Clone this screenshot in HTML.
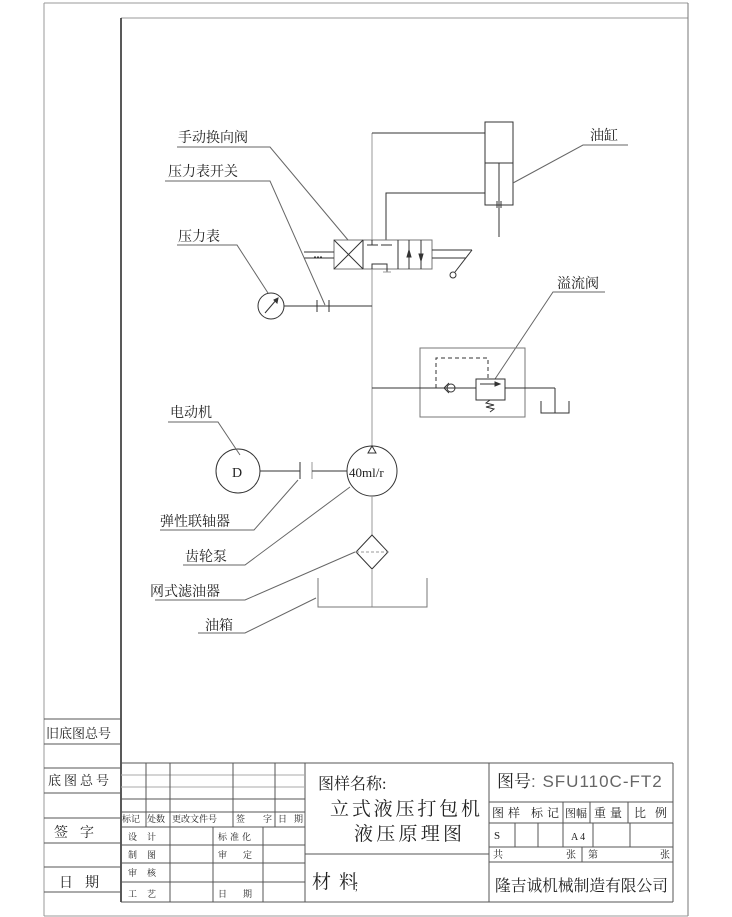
<!DOCTYPE html>
<html><head><meta charset="utf-8"><style>
html,body{margin:0;padding:0;background:#fff;}
svg{display:block;}
text{font-family:"Liberation Serif","Noto Serif CJK SC","Noto Sans CJK SC",serif;fill:#222;}
</style></head><body>
<svg width="732" height="917" viewBox="0 0 732 917" xmlns="http://www.w3.org/2000/svg">
<g stroke="#333" stroke-width="1" fill="none">
<line x1="44" y1="3" x2="688" y2="3" stroke="#999"/>
<line x1="44" y1="3" x2="44" y2="916" stroke="#999"/>
<line x1="121" y1="18" x2="688" y2="18" stroke="#999"/>
<line x1="121" y1="18" x2="121" y2="902" stroke-width="1.5" stroke="#222"/>
<line x1="688" y1="3" x2="688" y2="916" stroke="#777"/>
<line x1="44" y1="916" x2="688" y2="916" stroke="#999"/>

<line x1="372" y1="133" x2="372" y2="240" stroke="#999"/>
<line x1="372" y1="269" x2="372" y2="447" stroke="#999"/>
<line x1="372" y1="133" x2="485" y2="133"/>
<rect x="485" y="122" width="28" height="83"/>
<line x1="485" y1="163" x2="513" y2="163"/>
<line x1="499" y1="163" x2="499" y2="237"/>
<line x1="497" y1="201" x2="497" y2="208"/><line x1="501" y1="201" x2="501" y2="208"/>
<polyline points="485,193 386,193 386,240"/>
<rect x="334" y="240" width="98" height="29" stroke="#777"/>
<line x1="363" y1="240" x2="363" y2="269"/>
<line x1="334" y1="240" x2="363" y2="269"/><line x1="363" y1="240" x2="334" y2="269"/>
<line x1="398" y1="240" x2="398" y2="269"/>
<line x1="409" y1="240" x2="409" y2="269"/>
<line x1="421" y1="240" x2="421" y2="269"/>
<path d="M407,257 L409,250 L411,257Z" fill="#333"/>
<path d="M419,254 L421,261 L423,254Z" fill="#333"/>
<line x1="372" y1="240" x2="372" y2="245"/><line x1="367" y1="245" x2="378" y2="245"/>
<line x1="381" y1="245" x2="392" y2="245"/>
<polyline points="372,269 372,264 387,264 387,272"/>
<line x1="383" y1="272" x2="391" y2="272" stroke="#999"/>
<line x1="304" y1="252" x2="334" y2="252"/><line x1="304" y1="258" x2="334" y2="258"/>
<line x1="314" y1="257" x2="322" y2="257" stroke-dasharray="2,1"/>
<line x1="432" y1="250" x2="472" y2="250"/><line x1="432" y1="258" x2="466" y2="258"/>
<line x1="472" y1="250" x2="455" y2="272"/>
<circle cx="453" cy="275" r="3"/>
<line x1="284" y1="306" x2="372" y2="306"/>
<line x1="317" y1="300" x2="317" y2="312"/><line x1="329" y1="300" x2="329" y2="312"/>
<circle cx="271" cy="306" r="13"/>
<line x1="265" y1="313" x2="277" y2="299"/>
<path d="M274,300 L278,298 L277,303Z" fill="#333"/>
<polyline points="177,147 270,147 348,240" stroke="#666"/>
<polyline points="165,181 270,181 325,305" stroke="#666"/>
<polyline points="177,245 237,245 268,293" stroke="#666"/>
<polyline points="628,145 583,145 513,183" stroke="#666"/>
<polyline points="605,292 553,292 495,379" stroke="#666"/>
<rect x="420" y="348" width="105" height="69" stroke="#777"/>
<line x1="372" y1="388" x2="476" y2="388"/>
<line x1="505" y1="388" x2="555" y2="388"/>
<line x1="555" y1="388" x2="555" y2="413"/>
<polyline points="541,401 541,413 569,413 569,401"/>
<path d="M449,383 L444,388 L449,393" />
<circle cx="451" cy="388" r="4"/>
<rect x="476" y="379" width="29" height="21"/>
<line x1="480" y1="384" x2="500" y2="384"/><path d="M495,382 L500,384 L495,386Z" fill="#333"/>
<polyline points="436,388 436,358 488,358 488,379" stroke-dasharray="4,3"/>
<polyline points="490,400 486,403 494,405 486,407 494,409 490,412"/>
<circle cx="238" cy="471" r="22"/>
<line x1="260" y1="471" x2="300" y2="471"/>
<line x1="300" y1="462" x2="300" y2="479"/>
<line x1="312" y1="462" x2="312" y2="479" stroke="#999"/>
<line x1="312" y1="471" x2="347" y2="471"/>
<circle cx="372" cy="471" r="25"/>
<path d="M368,453 L372,446 L376,453Z"/>
<line x1="372" y1="496" x2="372" y2="535" stroke="#999"/>
<path d="M372,535 L388,552 L372,569 L356,552Z"/>
<line x1="356" y1="552" x2="388" y2="552" stroke-dasharray="3,2" stroke="#999"/>
<line x1="372" y1="569" x2="372" y2="607" stroke="#999"/>
<polyline points="318,578 318,607 427,607 427,578" stroke="#777"/>
<polyline points="168,422 218,422 240,455" stroke="#666"/>
<polyline points="160,530 254,530 298,480" stroke="#666"/>
<polyline points="183,565 245,565 350,487" stroke="#666"/>
<polyline points="155,600 245,600 355,552" stroke="#666"/>
<polyline points="198,633 245,633 316,598" stroke="#666"/>

<g stroke="#555">
<line x1="44" y1="719" x2="121" y2="719"/><line x1="44" y1="744" x2="121" y2="744"/>
<line x1="44" y1="768" x2="121" y2="768"/><line x1="44" y1="793" x2="121" y2="793"/>
<line x1="44" y1="818" x2="121" y2="818"/><line x1="44" y1="843" x2="121" y2="843"/>
<line x1="44" y1="867" x2="121" y2="867"/><line x1="44" y1="892" x2="121" y2="892"/>
<line x1="121" y1="763" x2="673" y2="763"/>
<line x1="121" y1="902" x2="673" y2="902"/>
<line x1="673" y1="763" x2="673" y2="902"/>
<line x1="305" y1="763" x2="305" y2="902"/>
<line x1="489" y1="763" x2="489" y2="902"/>
<line x1="121" y1="775" x2="305" y2="775" stroke="#aaa"/>
<line x1="121" y1="787" x2="305" y2="787" stroke="#aaa"/>
<line x1="121" y1="799" x2="305" y2="799"/>
<line x1="121" y1="812" x2="305" y2="812"/>
<line x1="121" y1="827" x2="305" y2="827"/>
<line x1="121" y1="845" x2="305" y2="845"/>
<line x1="121" y1="863" x2="305" y2="863"/>
<line x1="121" y1="882" x2="305" y2="882"/>
<line x1="146" y1="763" x2="146" y2="827"/>
<line x1="170" y1="763" x2="170" y2="902"/>
<line x1="233" y1="763" x2="233" y2="827"/>
<line x1="275" y1="763" x2="275" y2="827"/>
<line x1="213" y1="827" x2="213" y2="902"/>
<line x1="263" y1="827" x2="263" y2="902"/>
<line x1="305" y1="854" x2="489" y2="854"/>
<line x1="489" y1="802" x2="673" y2="802"/>
<line x1="489" y1="823" x2="673" y2="823"/>
<line x1="489" y1="847" x2="673" y2="847"/>
<line x1="489" y1="862" x2="673" y2="862"/>
<line x1="563" y1="802" x2="563" y2="847"/>
<line x1="590" y1="802" x2="590" y2="823"/>
<line x1="628" y1="802" x2="628" y2="823"/>
<line x1="515" y1="823" x2="515" y2="847"/>
<line x1="538" y1="823" x2="538" y2="847"/>
<line x1="593" y1="823" x2="593" y2="847"/>
<line x1="630" y1="823" x2="630" y2="847"/>
<line x1="582" y1="847" x2="582" y2="862"/>
</g>
</g>

<g font-size="14">
<text x="178" y="142">手动换向阀</text>
<text x="168" y="176">压力表开关</text>
<text x="178" y="241">压力表</text>
<text x="590" y="140">油缸</text>
<text x="557" y="288">溢流阀</text>
<text x="170" y="417">电动机</text>
<text x="160" y="526">弹性联轴器</text>
<text x="185" y="561">齿轮泵</text>
<text x="150" y="596">网式滤油器</text>
<text x="205" y="630">油箱</text>
<text x="232" y="477">D</text>
<text x="349" y="477" font-size="13">40ml/r</text>

<text x="46" y="738" font-size="13">旧底图总号</text>
<text x="48" y="785" font-size="13" letter-spacing="3">底图总号</text>
<text x="54" y="837" font-size="14" letter-spacing="12">签字</text>
<text x="59" y="887" font-size="14" letter-spacing="12">日期</text>
<g font-size="9">
<text x="122" y="822">标记</text><text x="147" y="822">处数</text><text x="172" y="822">更改文件号</text>
<text x="236" y="822" letter-spacing="18">签字</text><text x="278" y="822" letter-spacing="7">日期</text>
<text x="128" y="840" letter-spacing="10">设计</text><text x="218" y="840" letter-spacing="3">标准化</text>
<text x="128" y="858" letter-spacing="10">制图</text><text x="218" y="858" letter-spacing="16">审定</text>
<text x="128" y="876" letter-spacing="10">审核</text>
<text x="128" y="897" letter-spacing="10">工艺</text><text x="218" y="897" letter-spacing="16">日期</text>
</g>
<text x="318" y="789" font-size="16">图样名称:</text>
<text x="330" y="815" font-size="19" textLength="150" lengthAdjust="spacing">立式液压打包机</text>
<text x="354" y="840" font-size="19" textLength="108" lengthAdjust="spacing">液压原理图</text>
<text x="312" y="888" font-size="19" letter-spacing="8">材料</text>
<text x="355" y="890" font-size="10">;</text>
<text x="497" y="787" font-size="17">图号<tspan font-family="Liberation Sans, sans-serif" fill="#666" letter-spacing="1">: SFU110C-FT2</tspan></text>
<text x="492" y="817" font-size="12" letter-spacing="4">图样 标记</text>
<text x="565" y="817" font-size="11">图幅</text>
<text x="594" y="817" font-size="12" letter-spacing="4">重量</text>
<text x="634" y="817" font-size="12" letter-spacing="9">比例</text>
<text x="494" y="839" font-size="11">S</text>
<text x="571" y="840" font-size="10">A 4</text>
<text x="493" y="858" font-size="10">共</text><text x="566" y="858" font-size="10">张</text>
<text x="588" y="858" font-size="10">第</text><text x="660" y="858" font-size="10">张</text>
<text x="495" y="891" font-size="16" textLength="173" lengthAdjust="spacingAndGlyphs">隆吉诚机械制造有限公司</text>
</g>
</svg>
</body></html>
